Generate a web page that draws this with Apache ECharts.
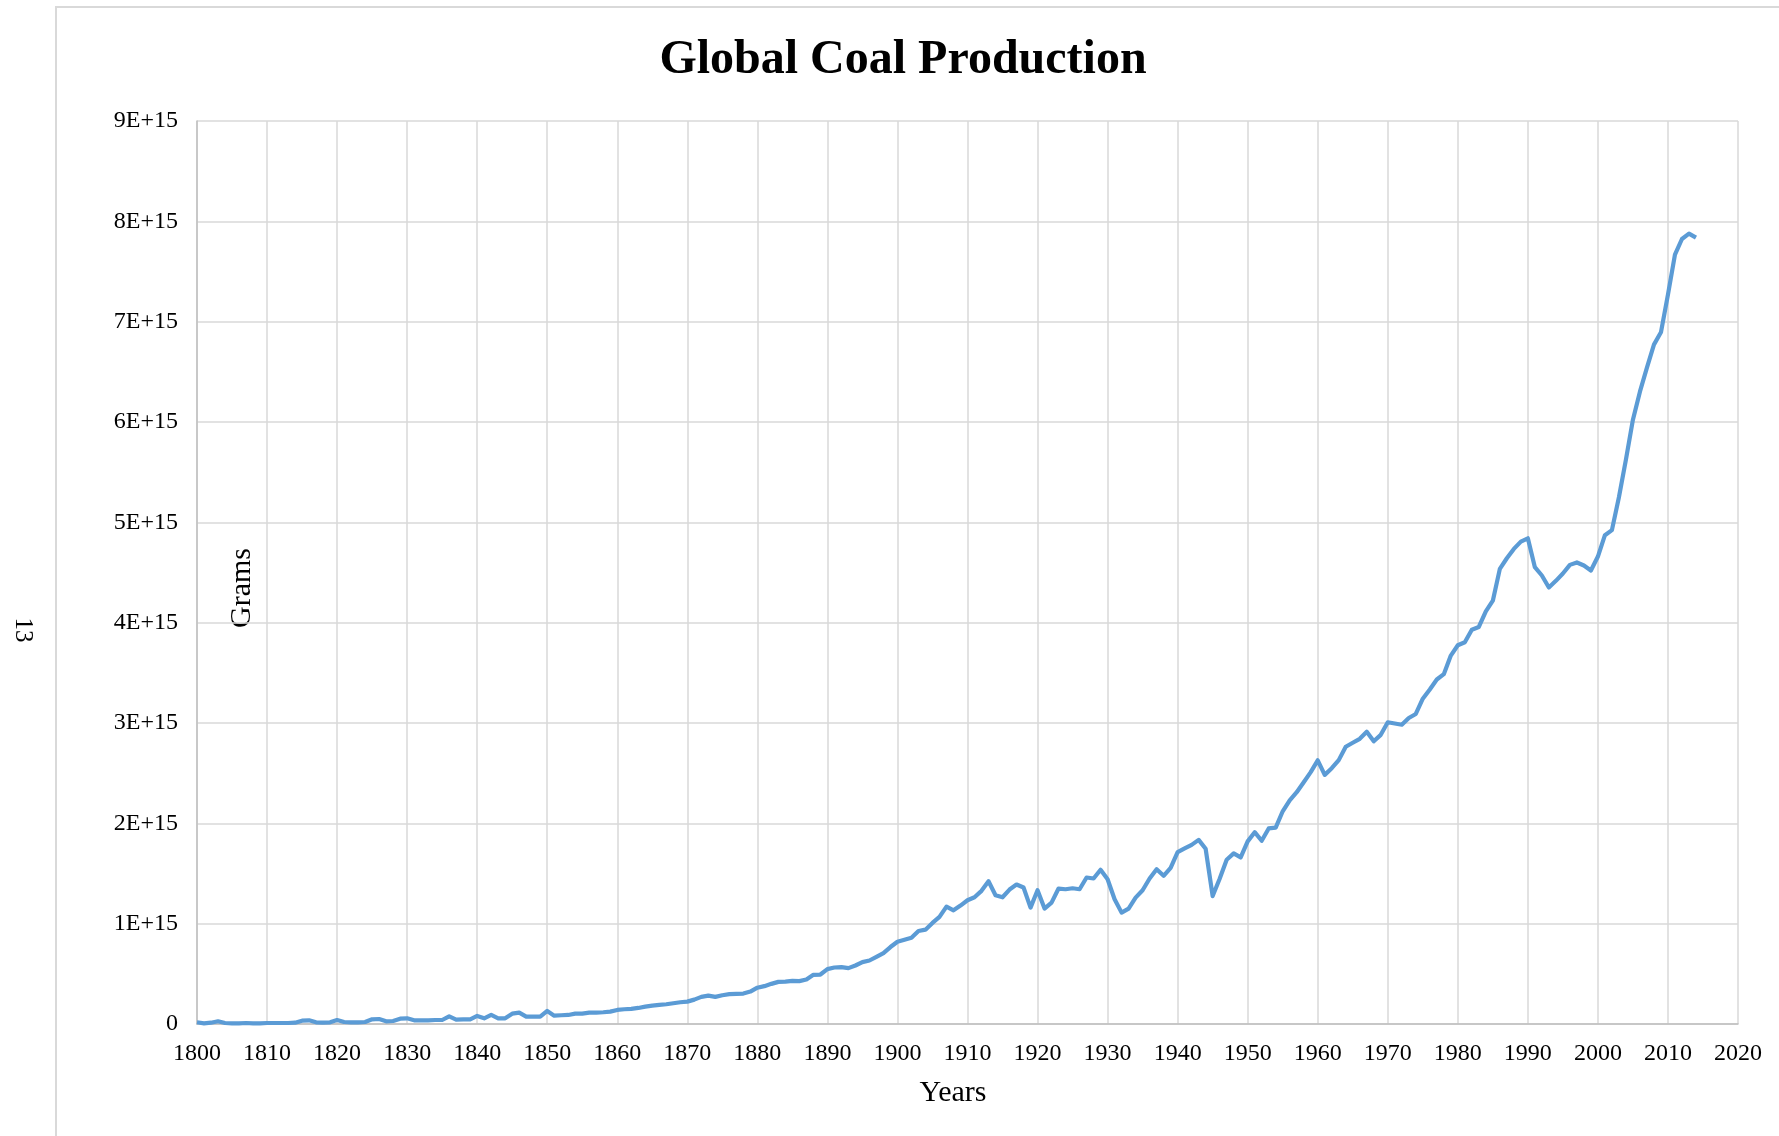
<!DOCTYPE html>
<html>
<head>
<meta charset="utf-8">
<title>Global Coal Production</title>
<script src="https://cdn.jsdelivr.net/npm/echarts@6/dist/echarts.min.js"></script>
<style>
    html, body { margin: 0; padding: 0; background: #ffffff; }
    #chart { width: 1779px; height: 1136px; }
</style>
</head>
<body>
<div id="chart"></div>
<script>
    // coal production per year, in units of 1E+15 grams
    var startYear = 1800;
    var production = [
        0.017, 0.007, 0.013, 0.027, 0.010, 0.007, 0.007, 0.010, 0.007, 0.007,
        0.010, 0.010, 0.010, 0.010, 0.013, 0.033, 0.037, 0.017, 0.013, 0.017,
        0.040, 0.020, 0.017, 0.017, 0.020, 0.047, 0.050, 0.027, 0.030, 0.053,
        0.057, 0.037, 0.037, 0.037, 0.040, 0.040, 0.077, 0.043, 0.047, 0.047,
        0.080, 0.057, 0.090, 0.057, 0.057, 0.103, 0.113, 0.073, 0.073, 0.073,
        0.130, 0.083, 0.087, 0.090, 0.103, 0.103, 0.113, 0.113, 0.117, 0.123,
        0.140, 0.147, 0.150, 0.160, 0.173, 0.183, 0.190, 0.197, 0.207, 0.217,
        0.223, 0.243, 0.270, 0.283, 0.270, 0.287, 0.297, 0.300, 0.303, 0.323,
        0.362, 0.377, 0.400, 0.420, 0.423, 0.430, 0.427, 0.443, 0.490, 0.493,
        0.547, 0.563, 0.567, 0.557, 0.583, 0.617, 0.633, 0.670, 0.707, 0.767,
        0.820, 0.840, 0.860, 0.927, 0.940, 1.007, 1.067, 1.170, 1.133, 1.180,
        1.233, 1.263, 1.327, 1.423, 1.283, 1.263, 1.340, 1.390, 1.360, 1.160,
        1.333, 1.150, 1.210, 1.350, 1.343, 1.353, 1.343, 1.460, 1.450, 1.537,
        1.443, 1.243, 1.110, 1.150, 1.260, 1.333, 1.450, 1.543, 1.477, 1.557,
        1.713, 1.750, 1.785, 1.835, 1.746, 1.275, 1.448, 1.637, 1.700, 1.660,
        1.820, 1.912, 1.826, 1.949, 1.958, 2.120, 2.230, 2.310, 2.410, 2.510,
        2.628, 2.483, 2.550, 2.630, 2.763, 2.803, 2.842, 2.912, 2.818, 2.882,
        3.007, 2.995, 2.983, 3.050, 3.090, 3.242, 3.334, 3.434, 3.487, 3.672,
        3.775, 3.805, 3.930, 3.957, 4.113, 4.219, 4.536, 4.642, 4.735, 4.808,
        4.841, 4.553, 4.470, 4.351, 4.417, 4.490, 4.576, 4.600, 4.570, 4.520,
        4.659, 4.872, 4.922, 5.250, 5.625, 6.023, 6.302, 6.542, 6.771, 6.894,
        7.269, 7.668, 7.824, 7.877, 7.837
    ];
    var yearTicks = [1800, 2020, 10];        // min, max, step
    var gramTicks = [0, 9e15, 1e15];          // min, max, step

    var seriesData = production.map(function (v, i) {
        return [startYear + i, v * 1e15];
    });

    var serif = '"Liberation Serif", "Times New Roman", serif';
    var myChart = echarts.init(document.getElementById('chart'));
    myChart.setOption({
        backgroundColor: '#ffffff',
        animation: false,
        grid: {
            left: 197,
            right: 41,
            top: 121,
            bottom: 112,
            containLabel: false
        },
        xAxis: {
            type: 'value',
            min: yearTicks[0],
            max: yearTicks[1],
            interval: yearTicks[2],
            axisLine: { show: true, lineStyle: { color: '#bfbfbf', width: 1.5 } },
            axisTick: { show: false },
            axisLabel: {
                color: '#000000',
                fontFamily: serif,
                fontSize: 24,
                margin: 18,
                formatter: function (v) { return String(v); }
            },
            splitLine: { show: true, lineStyle: { color: '#d9d9d9', width: 1.5 } }
        },
        yAxis: {
            type: 'value',
            min: gramTicks[0],
            max: gramTicks[1],
            interval: gramTicks[2],
            axisLine: { show: true, lineStyle: { color: '#bfbfbf', width: 1.5 } },
            axisTick: { show: false },
            axisLabel: {
                color: '#000000',
                fontFamily: serif,
                fontSize: 24,
                margin: 19,
                formatter: function (v) {
                    if (v === 0) return '0';
                    return Math.round(v / 1e15) + 'E+15';
                }
            },
            splitLine: { show: true, lineStyle: { color: '#d9d9d9', width: 1.5 } }
        },
        series: [
            {
                name: 'Global Coal Production',
                type: 'line',
                data: seriesData,
                showSymbol: false,
                symbol: 'none',
                lineStyle: { color: '#5b9bd5', width: 4.2, join: 'round' },
                itemStyle: { color: '#5b9bd5' }
            }
        ],
        graphic: [
            {
                type: 'rect',
                shape: { x: 56, y: 7, width: 1800, height: 1300 },
                style: { fill: 'none', stroke: '#d9d9d9', lineWidth: 2 },
                silent: true
            },
            {
                type: 'text',
                x: 903,
                y: 61,
                style: {
                    text: 'Global Coal Production',
                    font: 'bold 48px ' + serif,
                    fill: '#000000',
                    textAlign: 'center',
                    textVerticalAlign: 'middle'
                }
            },
            {
                type: 'text',
                x: 953,
                y: 1093,
                style: {
                    text: 'Years',
                    font: '30px ' + serif,
                    fill: '#000000',
                    textAlign: 'center',
                    textVerticalAlign: 'middle'
                }
            },
            {
                type: 'text',
                x: 242,
                y: 588,
                rotation: Math.PI / 2,
                style: {
                    text: 'Grams',
                    font: '30px ' + serif,
                    fill: '#000000',
                    textAlign: 'center',
                    textVerticalAlign: 'middle'
                }
            },
            {
                type: 'text',
                x: 23,
                y: 630,
                rotation: -Math.PI / 2,
                style: {
                    text: '13',
                    font: '25px ' + serif,
                    fill: '#000000',
                    textAlign: 'center',
                    textVerticalAlign: 'middle'
                }
            }
        ]
    });
</script>
</body>
</html>
